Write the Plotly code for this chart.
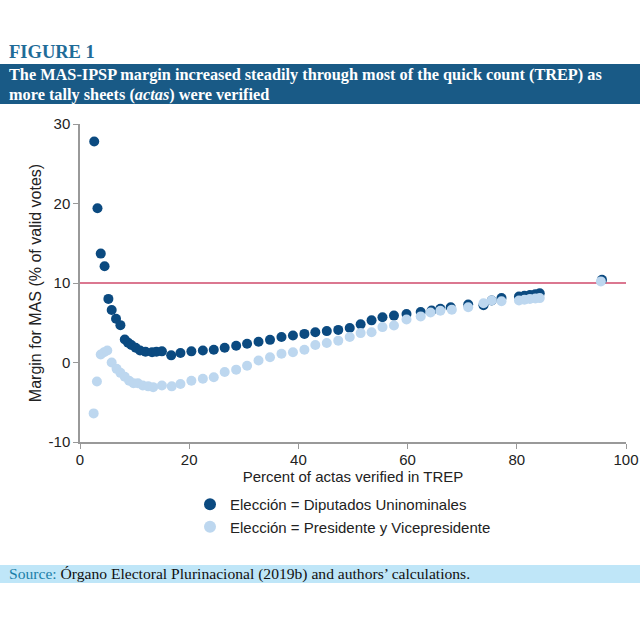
import plotly.graph_objects as go

# ---- data ----
dip_x = [2.6, 3.2, 3.8, 4.5, 5.2, 5.8, 6.6, 7.4, 8.2, 8.8, 9.4, 10.2, 11.0, 12.0, 13.2, 14.0,
         15.0, 16.7, 18.4, 20.4, 22.5, 24.5, 26.5, 28.6, 30.6, 32.7, 34.8, 36.9, 39.0, 41.1,
         43.1, 45.2, 47.3, 49.4, 51.4, 53.4, 55.4, 57.5, 59.8, 62.4, 64.4, 66.0, 67.9, 71.1,
         73.9, 75.4, 77.2, 80.4, 81.4, 82.4, 83.4, 84.2, 95.6]
dip_y = [27.8, 19.4, 13.7, 12.1, 8.0, 6.6, 5.5, 4.7, 2.9, 2.5, 2.2, 1.85, 1.5, 1.35, 1.3, 1.35,
         1.4, 0.9, 1.2, 1.4, 1.5, 1.6, 1.85, 2.1, 2.35, 2.6, 2.85, 3.2, 3.4, 3.6,
         3.8, 3.95, 4.1, 4.35, 4.8, 5.3, 5.7, 5.9, 6.1, 6.35, 6.55, 6.75, 6.95, 7.3,
         7.2, 7.8, 8.1, 8.3, 8.4, 8.5, 8.6, 8.7, 10.4]

pres_x = [2.5, 3.1, 3.8, 4.4, 5.0, 5.8, 6.7, 7.4, 8.2, 9.0, 9.8, 10.6, 11.5, 12.5, 13.4,
          15.0, 16.8, 18.4, 20.4, 22.5, 24.5, 26.5, 28.6, 30.6, 32.7, 34.8, 36.9, 39.0, 41.1,
          43.1, 45.2, 47.3, 49.4, 51.4, 53.4, 55.4, 57.5, 59.8, 62.4, 64.2, 66.0, 68.1, 71.1,
          73.9, 75.4, 77.2, 80.4, 81.4, 82.4, 83.4, 84.2, 95.4]
pres_y = [-6.4, -2.4, 1.0, 1.3, 1.5, 0.0, -0.8, -1.3, -1.8, -2.3, -2.6, -2.6, -2.9, -3.0, -3.1,
          -2.9, -3.0, -2.7, -2.3, -2.05, -1.85, -1.2, -0.9, -0.4, 0.25, 0.67, 1.1, 1.3, 1.6,
          2.2, 2.45, 2.75, 3.2, 3.7, 3.8, 4.45, 4.65, 5.4, 5.8, 6.3, 6.5, 6.65, 6.95,
          7.45, 7.8, 7.7, 7.8, 7.9, 8.0, 8.05, 8.1, 10.2]

ref_level = 10
x_ticks = [0, 20, 40, 60, 80, 100]
y_ticks = [-10, 0, 10, 20, 30]
y_ticktext = ["-10", "0", "10", "20", "30"]

DARK = "#0b4a80"
LIGHT = "#bdd7ef"
BAND = "#195a86"

W, H = 640, 640
# plot area: x 80..626 px, y 124..442 px
PT, PB = 124, 442
def py(v):
    return (PB - v) / (PB - PT)
PL, PR = 80, 626
def px(v):
    return (v - PL) / (PR - PL)

fig = go.Figure()
fig.add_trace(go.Scatter(x=dip_x, y=dip_y, mode="markers",
                         name="Elección = Diputados Uninominales",
                         marker=dict(color=DARK, size=10, line=dict(width=0)),
                         cliponaxis=False))
fig.add_trace(go.Scatter(x=pres_x, y=pres_y, mode="markers",
                         name="Elección = Presidente y Vicepresidente",
                         marker=dict(color=LIGHT, size=10, line=dict(width=0)),
                         cliponaxis=False))

shapes = [
    dict(type="line", xref="x", yref="y", x0=0, x1=100, y0=ref_level, y1=ref_level,
         line=dict(color="#cf4a6b", width=1.5), layer="below"),
    dict(type="rect", xref="paper", yref="paper", x0=px(0), x1=px(W),
         y0=py(104), y1=py(64), fillcolor=BAND, line=dict(width=0), layer="below"),
    dict(type="rect", xref="paper", yref="paper", x0=px(0), x1=px(W),
         y0=py(583), y1=py(565), fillcolor="#bfe6f8", line=dict(width=0), layer="below"),
]

serif = "Liberation Serif, Times New Roman, serif"
annotations = [
    dict(text="<b>FIGURE 1</b>", xref="paper", yref="paper", x=px(7), y=py(52),
         xanchor="left", yanchor="middle", showarrow=False,
         font=dict(family=serif, size=18.5, color="#1f6c98")),
    dict(text="<b>The MAS-IPSP margin increased steadily through most of the quick count (TREP) as</b>",
         xref="paper", yref="paper", x=px(7), y=py(75), xanchor="left", yanchor="middle",
         showarrow=False, font=dict(family=serif, size=16.3, color="white")),
    dict(text="<b>more tally sheets (<i>actas</i>) were verified</b>",
         xref="paper", yref="paper", x=px(7), y=py(94), xanchor="left", yanchor="middle",
         showarrow=False, font=dict(family=serif, size=16.3, color="white")),
    dict(text="<span style='color:#1a7fa8'>Source:</span> Órgano Electoral Plurinacional (2019b) and authors’ calculations.",
         xref="paper", yref="paper", x=px(7), y=py(574), xanchor="left", yanchor="middle",
         showarrow=False, font=dict(family=serif, size=15.6, color="#111111")),
]

fig.update_layout(
    width=W, height=H, autosize=False,
    margin=dict(l=PL, r=W - PR, t=PT, b=H - PB, pad=0, autoexpand=False),
    paper_bgcolor="white", plot_bgcolor="white",
    font=dict(family="Liberation Sans, Arial, sans-serif", size=15, color="#222222"),
    showlegend=True,
    legend=dict(x=px(190), y=py(488), xanchor="left", yanchor="top",
                font=dict(size=15, color="#222222"), bgcolor="rgba(0,0,0,0)",
                tracegroupgap=0, itemsizing="constant"),
    shapes=shapes, annotations=annotations,
)
fig.update_xaxes(range=[0, 100], tickvals=x_ticks, showgrid=False, zeroline=False,
                 automargin=False,
                 showline=True, linecolor="#999999", linewidth=1.5,
                 ticks="outside", ticklen=5, tickcolor="#999999",
                 ticklabelstandoff=-2, tickfont=dict(size=15),
                 title=dict(text="Percent of actas verified in TREP", standoff=0,
                            font=dict(size=15)))
fig.update_yaxes(range=[-10, 30], tickvals=y_ticks, ticktext=y_ticktext,
                 showgrid=False, zeroline=False, automargin=False,
                 showline=True, linecolor="#999999", linewidth=1.5,
                 ticks="outside", ticklen=5, tickcolor="#999999", tickfont=dict(size=15),
                 title=dict(text="Margin for MAS (% of valid votes)", standoff=3,
                            font=dict(size=16)))

fig.write_html("out.html", config={"responsive": False})
